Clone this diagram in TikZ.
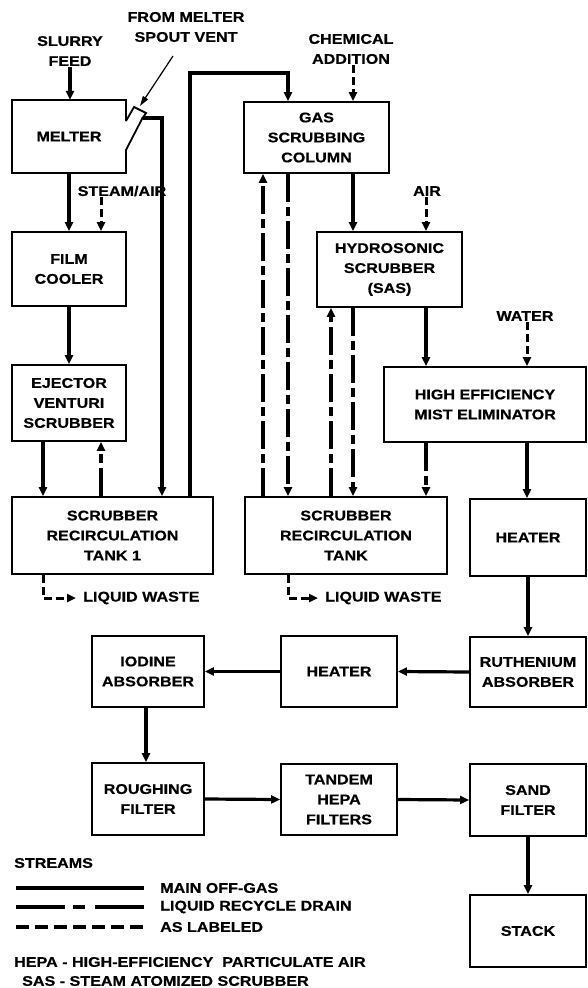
\documentclass[tikz,border=0pt]{standalone}
\usepackage{fontspec}
\newfontfamily\lbl[FakeStretch=1.15, BoldFeatures={FakeBold=0.6}]{Liberation Sans}
\usetikzlibrary{arrows.meta}
\tikzset{
  every node/.style={font=\lbl\bfseries\fontsize{14}{20}\selectfont, align=center, inner sep=1pt},
  box/.style={draw, line width=1.8pt, inner sep=0pt},
  tip/.style={-{Triangle[length=9pt,width=8pt]}},
  main/.style={line width=3.2pt, tip},
  drain/.style={line width=3.2pt, dash pattern=on 28pt off 5pt on 9pt off 5pt, tip},
  labeled/.style={line width=3pt, dash pattern=on 8pt off 4pt, tip},
}
\begin{document}
\begin{tikzpicture}[x=1pt,y=-1pt]
\fill[white] (0,0) rectangle (587,988);
\useasboundingbox (0,0) rectangle (587,988);

% column coordinates
\foreach \n/\x in {c43/43,c101/101,c146/146,c162/162,c190/190,c263/263,c288/288,c331/331,c353/353,c426/426,c527/527}
  \coordinate (\n) at (\x,0);

% input labels
\node (slurry) at (70,51) {SLURRY\\FEED};
\node (spout) at (186,27) {FROM MELTER\\SPOUT VENT};
\node (chem) at (351,49) {CHEMICAL\\ADDITION};
\node (steam) at (122,191) {STEAM/AIR};
\node (air) at (427,191) {AIR};
\node (water) at (525,316) {WATER};

% melter
\node[minimum width=114pt, minimum height=73pt, inner sep=0pt] (melter) at (69,136.5) {MELTER};
\draw[line width=1.8pt, line join=miter] (126,121) -- (126,100) -- (12,100) -- (12,173) -- (126,173) -- (126,150) -- (143,117);
\draw[line width=1.8pt, line join=miter] (126,121) -- (134,107) -- (146,113) -- (142,119);
\coordinate (vent) at (143,118);
\coordinate (spouttip) at (140,106);
\coordinate (spoutstart) at (173,56);

% boxes
\node[box, minimum width=114pt, minimum height=74pt] (film) at (69,269) {FILM\\COOLER};
\node[box, minimum width=114pt, minimum height=76pt] (ejector) at (69,403) {EJECTOR\\VENTURI\\SCRUBBER};
\node[box, minimum width=201pt, minimum height=77pt] (tank1) at (112.5,535.5) {SCRUBBER\\RECIRCULATION\\TANK 1};
\node[box, minimum width=145pt, minimum height=71pt] (gsc) at (316.5,137.5) {GAS\\SCRUBBING\\COLUMN};
\node[box, minimum width=145pt, minimum height=75pt] (hydro) at (389.5,269.5) {HYDROSONIC\\SCRUBBER\\(SAS)};
\node[box, minimum width=202pt, minimum height=75pt] (heme) at (485,404.5) {HIGH EFFICIENCY\\MIST ELIMINATOR};
\node[box, minimum width=202pt, minimum height=77pt] (tank2) at (346,535.5) {SCRUBBER\\RECIRCULATION\\TANK};
\node[box, minimum width=116pt, minimum height=77pt] (heaterR) at (528,537.5) {HEATER};
\node[box, minimum width=116pt, minimum height=70pt] (ruth) at (528,672) {RUTHENIUM\\ABSORBER};
\node[box, minimum width=116pt, minimum height=71pt] (heaterM) at (339,671.5) {HEATER};
\node[box, minimum width=112pt, minimum height=71pt] (iodine) at (148,671.5) {IODINE\\ABSORBER};
\node[box, minimum width=112pt, minimum height=72pt] (rough) at (148,799) {ROUGHING\\FILTER};
\node[box, minimum width=116pt, minimum height=71pt] (tandem) at (339,799.5) {TANDEM\\HEPA\\FILTERS};
\node[box, minimum width=116pt, minimum height=72pt] (sand) at (528,800) {SAND\\FILTER};
\node[box, minimum width=116pt, minimum height=72pt] (stack) at (528,931) {STACK};

\node[anchor=west] (lw1) at (82,598) {LIQUID WASTE};
\node[anchor=west] (lw2) at (324,598) {LIQUID WASTE};

% connectors
\draw[main] (slurry.south) -- (slurry.south |- melter.north);
\draw[line width=1.2pt, -{Triangle[length=10pt,width=6pt]}] (spoutstart) -- (spouttip);
\draw[main] (melter.south) -- (film.north);
\draw[labeled] (c101 |- steam.south) -- (c101 |- film.north);
\draw[main] (film.south) -- (ejector.north);
\draw[main] (c43 |- ejector.south) -- (c43 |- tank1.north);
\draw[drain] (c101 |- tank1.north) -- (c101 |- ejector.south);
\draw[main, line join=miter] (vent) -- (162,118) -- (c162 |- tank1.north);
\draw[main, line join=miter] (c190 |- tank1.north) |- (288,73) -- (c288 |- gsc.north);
\draw[labeled] (c353 |- chem.south) -- (c353 |- gsc.north);
\draw[main] (c353 |- gsc.south) -- (c353 |- hydro.north);
\draw[labeled] (c426 |- air.south) -- (c426 |- hydro.north);
\draw[main] (c426 |- hydro.south) -- (c426 |- heme.north);
\draw[labeled] (c527 |- water.south) -- (c527 |- heme.north);
\draw[drain] (c426 |- heme.south) -- (c426 |- tank2.north);
\draw[drain] (c263 |- tank2.north) -- (c263 |- gsc.south);
\draw[drain] (c288 |- gsc.south) -- (c288 |- tank2.north);
\draw[drain] (c331 |- tank2.north) -- (c331 |- hydro.south);
\draw[drain] (c353 |- hydro.south) -- (c353 |- tank2.north);
\draw[main] (c527 |- heme.south) -- (c527 |- heaterR.north);
\draw[main] (heaterR.south) -- (ruth.north);
\draw[main] (ruth.west) -- (heaterM.east);
\draw[main] (heaterM.west) -- (iodine.east);
\draw[main] (c146 |- iodine.south) -- (c146 |- rough.north);
\draw[main] (rough.east) -- (tandem.west);
\draw[main] (tandem.east) -- (sand.west);
\draw[main] (sand.south) -- (stack.north);
\draw[labeled, line join=miter, shorten >=6pt] (c43 |- tank1.south) |- (lw1.west);
\draw[labeled, line join=miter, shorten >=6pt] (c288 |- tank2.south) |- (lw2.west);

% legend
\node[anchor=west] (streams) at (13,863) {STREAMS};
\coordinate (l1a) at (16,888); \coordinate (l1b) at (144,888);
\draw[line width=3.2pt] (l1a) -- (l1b);
\node[anchor=west] (leg1) at (159,888) {MAIN OFF-GAS};
\coordinate (l2a) at (16,907); \coordinate (l2b) at (65,907);
\coordinate (l2c) at (73,907); \coordinate (l2d) at (85,907);
\coordinate (l2e) at (95,907); \coordinate (l2f) at (144,907);
\draw[line width=3.2pt] (l2a) -- (l2b) (l2c) -- (l2d) (l2e) -- (l2f);
\node[anchor=west] (leg2) at (159,907) {LIQUID RECYCLE DRAIN};
\coordinate (l3a) at (16,927); \coordinate (l3b) at (145,927);
\draw[line width=3.2pt, dash pattern=on 13pt off 6pt] (l3a) -- (l3b);
\node[anchor=west] (leg3) at (159,927) {AS LABELED};
\node[anchor=west] (hepa) at (13,962) {HEPA - HIGH-EFFICIENCY\ \ PARTICULATE AIR};
\node[anchor=west] (sas) at (21,981) {SAS - STEAM ATOMIZED SCRUBBER};
\end{tikzpicture}
\end{document}
